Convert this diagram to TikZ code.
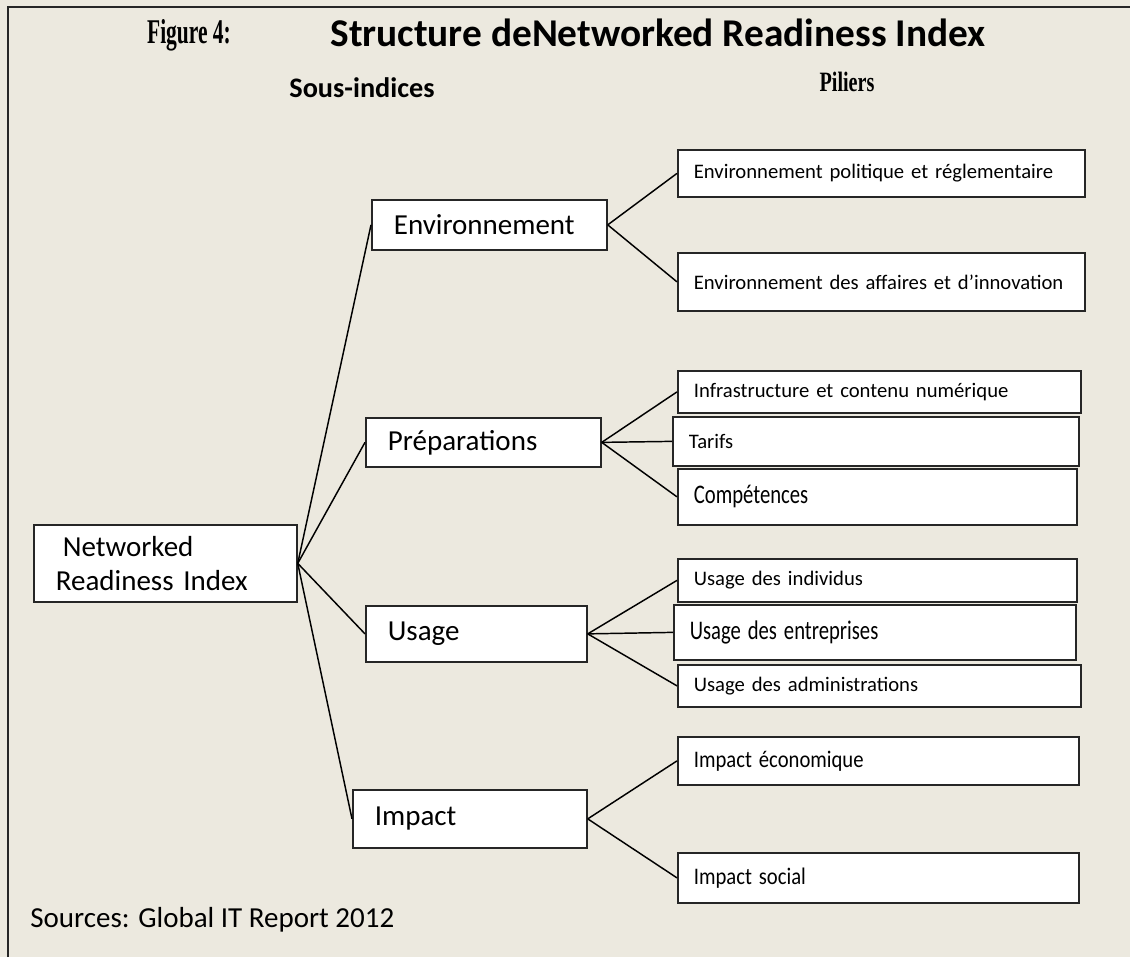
\documentclass[tikz,border=0pt]{standalone}
\usepackage{fontspec}
\setmainfont{Carlito}
\newfontfamily\tnr{Liberation Serif}
\definecolor{bg}{RGB}{236,233,223}
\begin{document}
\begin{tikzpicture}[x=0.75pt,y=-0.75pt,
  box/.style={draw=black!85, line width=1.3pt, fill=white, anchor=north west, inner ysep=0pt, align=left},
  subbox/.style={box, inner xsep=16.5pt, font=\fontsize{21.75}{25.5}\selectfont},
  pilbox/.style={box, inner xsep=12pt, font=\fontsize{15.5}{18}\selectfont},
  link/.style={line width=1.1pt, black}]
\useasboundingbox (0,0) rectangle (1130,957);
\fill[bg] (0,0) rectangle (1130,957);
\draw[line width=1.6pt, black!85] (8,957) -- (8,7) -- (1130,7);

% titles
\node (fig) at (189,35) {\scalebox{0.62}[1]{\fontsize{26}{30}\selectfont\tnr\bfseries Figure 4:}};
\node (title) at (658,33) {\fontsize{29.5}{34}\selectfont\bfseries Structure deNetworked Readiness Index};
\node (sous) at (362,88) {\fontsize{21.2}{25}\selectfont\bfseries Sous-indices};
\node (pil) at (847,82) {\scalebox{0.72}[1]{\fontsize{21}{25}\selectfont\tnr\bfseries Piliers}};

% root
\node[subbox, text width=164.25pt, minimum height=57.75pt] (nri) at (33,524) {\hspace*{5.25pt}Networked\\Readiness Index};

% sub-indices
\node[subbox, text width=143.25pt, minimum height=37.5pt] (env) at (371,199) {Environnement};
\node[subbox, text width=143.25pt, minimum height=36.75pt] (prep) at (365,417) {Préparations};
\node[subbox, text width=132.75pt, minimum height=42pt] (usage) at (365,605) {Usage};
\node[subbox, text width=142.5pt, minimum height=43.5pt] (impact) at (352,789) {Impact};

% pillars
\node[pilbox, text width=281.25pt, minimum height=35.25pt] (envpol) at (677,149) {Environnement politique et réglementaire};
\node[pilbox, text width=281.25pt, minimum height=43.5pt] (envaff) at (677,252) {Environnement des affaires et d’innovation};
\node[pilbox, text width=278.25pt, minimum height=31.5pt] (infra) at (677,370) {Infrastructure et contenu numérique};
\node[pilbox, text width=280.5pt, minimum height=36.75pt] (tarifs) at (672,416) {Tarifs};
\node[pilbox, text width=275.25pt, minimum height=42pt] (comp) at (677,468) {\scalebox{1}[1.3]{Compétences}};
\node[pilbox, text width=275.25pt, minimum height=32.25pt] (uind) at (677,558) {Usage des individus};
\node[pilbox, text width=277.5pt, minimum height=41.25pt] (uent) at (673,604) {\scalebox{1}[1.3]{Usage des entreprises}};
\node[pilbox, text width=278.25pt, minimum height=31.5pt] (uadm) at (677,664) {Usage des administrations};
\node[pilbox, text width=276.75pt, minimum height=36pt] (impeco) at (677,736) {\scalebox{1}[1.15]{Impact économique}};
\node[pilbox, text width=276.75pt, minimum height=37.5pt] (impsoc) at (677,852) {\scalebox{1}[1.15]{Impact social}};

% source
\node[anchor=west, inner sep=0pt, font=\fontsize{21.75}{25.5}\selectfont] (src) at (30,920) {Sources: Global IT Report 2012};

% connectors
\draw[link] (nri.east) -- (env.west);
\draw[link] (nri.east) -- (prep.west);
\draw[link] (nri.east) -- (usage.west);
\draw[link] (nri.east) -- (impact.west);
\draw[link] (env.east) -- (envpol.west);
\draw[link] (env.east) -- (envaff.west);
\draw[link] (prep.east) -- (infra.west);
\draw[link] (prep.east) -- (tarifs.west);
\draw[link] (prep.east) -- (comp.west);
\draw[link] (usage.east) -- (uind.west);
\draw[link] (usage.east) -- (uent.west);
\draw[link] (usage.east) -- (uadm.west);
\draw[link] (impact.east) -- (impeco.west);
\draw[link] (impact.east) -- (impsoc.west);
\end{tikzpicture}
\end{document}
